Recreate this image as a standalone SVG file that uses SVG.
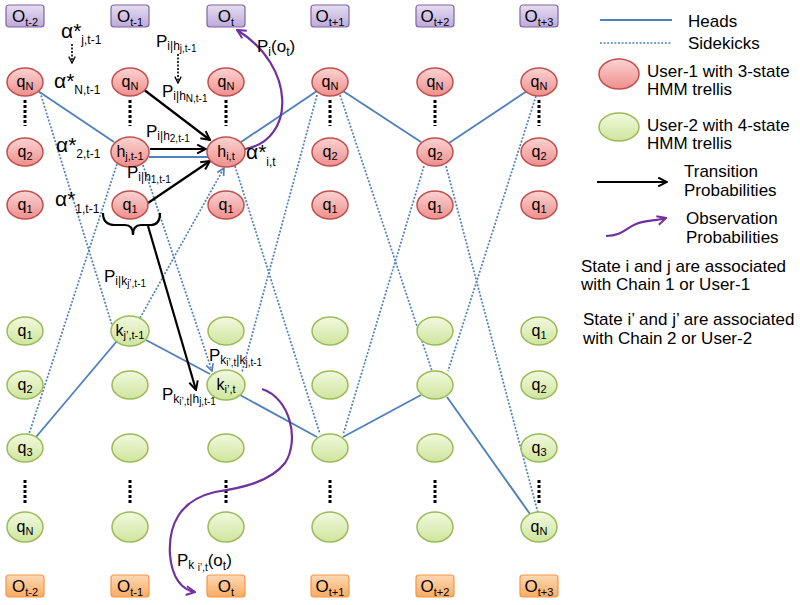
<svg xmlns="http://www.w3.org/2000/svg" width="800" height="605" viewBox="0 0 800 605">
<defs>
<linearGradient id="gr" x1="0" y1="0" x2="0" y2="1"><stop offset="0" stop-color="#fbd3d2"/><stop offset="1" stop-color="#ee8f8d"/></linearGradient>
<linearGradient id="gg" x1="0" y1="0" x2="0" y2="1"><stop offset="0" stop-color="#f2f9df"/><stop offset="1" stop-color="#cfe59d"/></linearGradient>
<linearGradient id="gp" x1="0" y1="0" x2="0" y2="1"><stop offset="0" stop-color="#e6ddf2"/><stop offset="1" stop-color="#bca9da"/></linearGradient>
<linearGradient id="go" x1="0" y1="0" x2="0" y2="1"><stop offset="0" stop-color="#fdd9b4"/><stop offset="1" stop-color="#f9ab62"/></linearGradient>
<marker id="mb" viewBox="0 0 10 10" refX="9" refY="5" markerWidth="11" markerHeight="11" markerUnits="userSpaceOnUse" orient="auto"><path d="M1,1 L9,5 L1,9" fill="none" stroke="#000" stroke-width="1.8"/></marker>
<marker id="ms" viewBox="0 0 10 10" refX="9" refY="5" markerWidth="8" markerHeight="8" markerUnits="userSpaceOnUse" orient="auto"><path d="M1,1 L9,5 L1,9" fill="none" stroke="#000" stroke-width="1.6"/></marker>
<marker id="mu" viewBox="0 0 10 10" refX="9" refY="5" markerWidth="9" markerHeight="9" markerUnits="userSpaceOnUse" orient="auto"><path d="M1,1 L9,5 L1,9" fill="none" stroke="#4f81bd" stroke-width="1.8"/></marker>
<marker id="mp" viewBox="0 0 10 10" refX="9" refY="5" markerWidth="11" markerHeight="11" markerUnits="userSpaceOnUse" orient="auto"><path d="M1,1 L9,5 L1,9" fill="none" stroke="#7030a0" stroke-width="1.8"/></marker>
<style>
.t{font-family:"Liberation Sans",Arial,sans-serif;fill:#000}
.rn ellipse{fill:url(#gr);stroke:#c0504d;stroke-width:1.5}
.gn ellipse{fill:url(#gg);stroke:#9bbb59;stroke-width:1.5}
.ob rect{fill:url(#gp);stroke:#8064a2;stroke-width:1.2}
.ow rect{fill:url(#go);stroke:#f79646;stroke-width:1.2}
.nl{font-family:"Liberation Sans",Arial,sans-serif;font-size:16px;text-anchor:middle;fill:#000}
.bl{font-family:"Liberation Sans",Arial,sans-serif;font-size:17px;text-anchor:middle;fill:#000}
.hd{stroke:#4f81bd;stroke-width:1.9;fill:none}
.sk{stroke:#4f81bd;stroke-width:1.7;stroke-dasharray:2 1.6;fill:none}
.ba{stroke:#000;stroke-width:2.2;fill:none}
.da{stroke:#000;stroke-width:1.6;stroke-dasharray:2 1.5;fill:none}
.pa{stroke:#7030a0;stroke-width:2.2;fill:none}
.dt{stroke:#000;stroke-width:3;stroke-dasharray:3 2;fill:none}
.lg{font-size:17px}
</style>
</defs>
<rect width="800" height="605" fill="#fff"/>

<g id="obs-top">
<g id="ot-2" class="ob"><rect x="6" y="5" width="38" height="22" rx="3"/><text class="bl" x="25" y="22">O<tspan font-size="11" dy="4">t-2</tspan></text></g>
<g id="ot-1" class="ob"><rect x="111" y="5" width="38" height="22" rx="3"/><text class="bl" x="130" y="22">O<tspan font-size="11" dy="4">t-1</tspan></text></g>
<g id="ot" class="ob"><rect x="207" y="5" width="38" height="22" rx="3"/><text class="bl" x="226" y="22">O<tspan font-size="11" dy="4">t</tspan></text></g>
<g id="ot+1" class="ob"><rect x="311" y="5" width="38" height="22" rx="3"/><text class="bl" x="330" y="22">O<tspan font-size="11" dy="4">t+1</tspan></text></g>
<g id="ot+2" class="ob"><rect x="416" y="5" width="38" height="22" rx="3"/><text class="bl" x="435" y="22">O<tspan font-size="11" dy="4">t+2</tspan></text></g>
<g id="ot+3" class="ob"><rect x="520" y="5" width="38" height="22" rx="3"/><text class="bl" x="539" y="22">O<tspan font-size="11" dy="4">t+3</tspan></text></g>
</g>
<g id="obs-bottom">
<g id="ob-2" class="ow"><rect x="6" y="575" width="38" height="22" rx="3"/><text class="bl" x="25" y="592">O<tspan font-size="11" dy="4">t-2</tspan></text></g>
<g id="ob-1" class="ow"><rect x="111" y="575" width="38" height="22" rx="3"/><text class="bl" x="130" y="592">O<tspan font-size="11" dy="4">t-1</tspan></text></g>
<g id="ob" class="ow"><rect x="207" y="575" width="38" height="22" rx="3"/><text class="bl" x="226" y="592">O<tspan font-size="11" dy="4">t</tspan></text></g>
<g id="ob+1" class="ow"><rect x="311" y="575" width="38" height="22" rx="3"/><text class="bl" x="330" y="592">O<tspan font-size="11" dy="4">t+1</tspan></text></g>
<g id="ob+2" class="ow"><rect x="416" y="575" width="38" height="22" rx="3"/><text class="bl" x="435" y="592">O<tspan font-size="11" dy="4">t+2</tspan></text></g>
<g id="ob+3" class="ow"><rect x="520" y="575" width="38" height="22" rx="3"/><text class="bl" x="539" y="592">O<tspan font-size="11" dy="4">t+3</tspan></text></g>
</g>

<g id="dots">
<line class="dt" x1="25" y1="100" x2="25" y2="126"/>
<line class="dt" x1="130" y1="100" x2="130" y2="126"/>
<line class="dt" x1="226" y1="100" x2="226" y2="126"/>
<line class="dt" x1="330" y1="100" x2="330" y2="126"/>
<line class="dt" x1="435" y1="100" x2="435" y2="126"/>
<line class="dt" x1="539" y1="100" x2="539" y2="126"/>
<line class="dt" x1="25" y1="480" x2="25" y2="504"/>
<line class="dt" x1="130" y1="480" x2="130" y2="504"/>
<line class="dt" x1="226" y1="480" x2="226" y2="504"/>
<line class="dt" x1="330" y1="480" x2="330" y2="504"/>
<line class="dt" x1="435" y1="480" x2="435" y2="504"/>
<line class="dt" x1="539" y1="480" x2="539" y2="504"/>
</g>

<g id="connectors">
<line class="hd" x1="38" y1="91" x2="114" y2="142"/>
<line class="hd" x1="149" y1="157" x2="209" y2="157"/>
<line class="hd" x1="241" y1="142" x2="317" y2="91"/>
<line class="hd" x1="343" y1="91" x2="421" y2="142"/>
<line class="hd" x1="449" y1="143" x2="527" y2="91"/>
<line class="hd" x1="36" y1="437" x2="117" y2="341"/>
<line class="hd" x1="146" y1="340" x2="210" y2="374"/>
<line class="hd" x1="240" y1="395" x2="317" y2="437"/>
<line class="hd" x1="343" y1="437" x2="421" y2="395"/>
<line class="hd" x1="447" y1="397" x2="530" y2="514"/>
<line class="sk" x1="40" y1="92" x2="112" y2="325"/>
<line class="sk" x1="117" y1="164" x2="29" y2="434"/>
<line class="sk" x1="143" y1="165" x2="212" y2="371" marker-end="url(#mu)"/>
<line class="sk" x1="140" y1="318" x2="224" y2="168" marker-end="url(#mu)"/>
<line class="sk" x1="235" y1="166" x2="320" y2="434"/>
<line class="sk" x1="317" y1="95" x2="242" y2="372"/>
<line class="sk" x1="340" y1="95" x2="432" y2="371"/>
<line class="sk" x1="424" y1="166" x2="343" y2="435"/>
<line class="sk" x1="446" y1="166" x2="538" y2="513"/>
<line class="sk" x1="536" y1="96" x2="448" y2="371"/>
<line class="ba" x1="143" y1="89" x2="210" y2="140" marker-end="url(#mb)"/>
<line class="ba" x1="150" y1="149" x2="206" y2="149" marker-end="url(#mb)"/>
<line class="ba" x1="148" y1="203" x2="210" y2="161" marker-end="url(#mb)"/>
<path class="ba" d="M103,213 C103,221 107,225 115,225 L125,225 C131,225 133,229 133,235 C133,229 135,225 141,225 L151,225 C157,225 160,221 160,213"/>
<line class="ba" x1="148" y1="226" x2="196" y2="390" marker-end="url(#mb)"/>
<line class="da" x1="72" y1="44" x2="72" y2="63" marker-end="url(#ms)"/>
<line class="da" x1="178" y1="54" x2="178" y2="83" marker-end="url(#ms)"/>
<path class="pa" d="M245,149 C296,140 296,66 237,30" marker-end="url(#mp)"/>
<path class="pa" d="M262,389 C290,398 300,440 285,463 C270,482 242,488 215,492 C180,500 168,525 170,555 C172,578 182,590 195,592" marker-end="url(#mp)"/>
</g>

<g id="red-nodes">
<g id="r1N" class="rn"><ellipse cx="25" cy="82" rx="18" ry="14"/><text class="nl" x="25" y="87">q<tspan font-size="11" dy="3">N</tspan></text></g>
<g id="r12" class="rn"><ellipse cx="25" cy="152" rx="18" ry="14"/><text class="nl" x="25" y="157">q<tspan font-size="11" dy="3">2</tspan></text></g>
<g id="r11" class="rn"><ellipse cx="25" cy="205" rx="18" ry="14"/><text class="nl" x="25" y="210">q<tspan font-size="11" dy="3">1</tspan></text></g>
<g id="r2N" class="rn"><ellipse cx="130" cy="82" rx="18" ry="14"/><text class="nl" x="130" y="87">q<tspan font-size="11" dy="3">N</tspan></text></g>
<g id="hj" class="rn"><ellipse cx="130" cy="152" rx="19" ry="15"/><text class="nl" x="130" y="157">h<tspan font-size="11" dy="3">j,t-1</tspan></text></g>
<g id="r21" class="rn"><ellipse cx="130" cy="205" rx="18" ry="14"/><text class="nl" x="130" y="210">q<tspan font-size="11" dy="3">1</tspan></text></g>
<g id="r3N" class="rn"><ellipse cx="226" cy="82" rx="18" ry="14"/><text class="nl" x="226" y="87">q<tspan font-size="11" dy="3">N</tspan></text></g>
<g id="hi" class="rn"><ellipse cx="226" cy="152" rx="19" ry="15"/><text class="nl" x="226" y="157">h<tspan font-size="11" dy="3">i,t</tspan></text></g>
<g id="r31" class="rn"><ellipse cx="226" cy="205" rx="18" ry="14"/><text class="nl" x="226" y="210">q<tspan font-size="11" dy="3">1</tspan></text></g>
<g id="r4N" class="rn"><ellipse cx="330" cy="82" rx="18" ry="14"/><text class="nl" x="330" y="87">q<tspan font-size="11" dy="3">N</tspan></text></g>
<g id="r42" class="rn"><ellipse cx="330" cy="152" rx="18" ry="14"/><text class="nl" x="330" y="157">q<tspan font-size="11" dy="3">2</tspan></text></g>
<g id="r41" class="rn"><ellipse cx="330" cy="205" rx="18" ry="14"/><text class="nl" x="330" y="210">q<tspan font-size="11" dy="3">1</tspan></text></g>
<g id="r5N" class="rn"><ellipse cx="435" cy="82" rx="18" ry="14"/><text class="nl" x="435" y="87">q<tspan font-size="11" dy="3">N</tspan></text></g>
<g id="r52" class="rn"><ellipse cx="435" cy="152" rx="18" ry="14"/><text class="nl" x="435" y="157">q<tspan font-size="11" dy="3">2</tspan></text></g>
<g id="r51" class="rn"><ellipse cx="435" cy="205" rx="18" ry="14"/><text class="nl" x="435" y="210">q<tspan font-size="11" dy="3">1</tspan></text></g>
<g id="r6N" class="rn"><ellipse cx="539" cy="82" rx="18" ry="14"/><text class="nl" x="539" y="87">q<tspan font-size="11" dy="3">N</tspan></text></g>
<g id="r62" class="rn"><ellipse cx="539" cy="152" rx="18" ry="14"/><text class="nl" x="539" y="157">q<tspan font-size="11" dy="3">2</tspan></text></g>
<g id="r61" class="rn"><ellipse cx="539" cy="205" rx="18" ry="14"/><text class="nl" x="539" y="210">q<tspan font-size="11" dy="3">1</tspan></text></g>
</g>

<g id="green-nodes">
<g id="g11" class="gn"><ellipse cx="25" cy="331" rx="18" ry="14"/><text class="nl" x="25" y="336">q<tspan font-size="11" dy="3">1</tspan></text></g>
<g id="g12" class="gn"><ellipse cx="25" cy="385" rx="18" ry="14"/><text class="nl" x="25" y="390">q<tspan font-size="11" dy="3">2</tspan></text></g>
<g id="g13" class="gn"><ellipse cx="25" cy="448" rx="18" ry="14"/><text class="nl" x="25" y="453">q<tspan font-size="11" dy="3">3</tspan></text></g>
<g id="g1N" class="gn"><ellipse cx="25" cy="527" rx="18" ry="15"/><text class="nl" x="25" y="532">q<tspan font-size="11" dy="3">N</tspan></text></g>
<g id="kj" class="gn"><ellipse cx="130" cy="331" rx="19" ry="15"/><text class="nl" x="130" y="336">k<tspan font-size="11" dy="3">j’,t-1</tspan></text></g>
<g id="g22" class="gn"><ellipse cx="130" cy="385" rx="18" ry="14"/></g>
<g id="g23" class="gn"><ellipse cx="130" cy="448" rx="18" ry="14"/></g>
<g id="g2N" class="gn"><ellipse cx="130" cy="527" rx="18" ry="15"/></g>
<g id="g31" class="gn"><ellipse cx="226" cy="331" rx="18" ry="14"/></g>
<g id="ki" class="gn"><ellipse cx="226" cy="385" rx="19" ry="15"/><text class="nl" x="226" y="390">k<tspan font-size="11" dy="3">i’,t</tspan></text></g>
<g id="g33" class="gn"><ellipse cx="226" cy="448" rx="18" ry="14"/></g>
<g id="g3N" class="gn"><ellipse cx="226" cy="527" rx="18" ry="15"/></g>
<g id="g41" class="gn"><ellipse cx="330" cy="331" rx="18" ry="14"/></g>
<g id="g42" class="gn"><ellipse cx="330" cy="385" rx="18" ry="14"/></g>
<g id="g43" class="gn"><ellipse cx="330" cy="448" rx="18" ry="14"/></g>
<g id="g4N" class="gn"><ellipse cx="330" cy="527" rx="18" ry="15"/></g>
<g id="g51" class="gn"><ellipse cx="435" cy="331" rx="18" ry="14"/></g>
<g id="g52" class="gn"><ellipse cx="435" cy="385" rx="18" ry="14"/></g>
<g id="g53" class="gn"><ellipse cx="435" cy="448" rx="18" ry="14"/></g>
<g id="g5N" class="gn"><ellipse cx="435" cy="527" rx="18" ry="15"/></g>
<g id="g61" class="gn"><ellipse cx="539" cy="331" rx="18" ry="14"/><text class="nl" x="539" y="336">q<tspan font-size="11" dy="3">1</tspan></text></g>
<g id="g62" class="gn"><ellipse cx="539" cy="385" rx="18" ry="14"/><text class="nl" x="539" y="390">q<tspan font-size="11" dy="3">2</tspan></text></g>
<g id="g63" class="gn"><ellipse cx="539" cy="448" rx="18" ry="14"/><text class="nl" x="539" y="453">q<tspan font-size="11" dy="3">3</tspan></text></g>
<g id="g6N" class="gn"><ellipse cx="539" cy="527" rx="18" ry="15"/><text class="nl" x="539" y="532">q<tspan font-size="11" dy="3">N</tspan></text></g>
</g>

<g id="labels" class="t">
<text class="t" x="61" y="38" font-size="21">α*<tspan font-size="12" dy="6">j,t-1</tspan></text>
<text class="t" x="54" y="88" font-size="21">α*<tspan font-size="12" dy="6">N,t-1</tspan></text>
<text class="t" x="56" y="152" font-size="21">α*<tspan font-size="12" dy="6">2,t-1</tspan></text>
<text class="t" x="55" y="206" font-size="21">α*<tspan font-size="12" dy="7">1,t-1</tspan></text>
<text class="t" x="246" y="159" font-size="21">α*<tspan font-size="12" dy="7">i,t</tspan></text>
<text class="t" x="156" y="47" font-size="17">P<tspan font-size="12" dy="3">i|h</tspan><tspan font-size="10" dy="2">j,t-1</tspan></text>
<text class="t" x="162" y="97" font-size="17">P<tspan font-size="12" dy="3">i|h</tspan><tspan font-size="10" dy="2">N,t-1</tspan></text>
<text class="t" x="146" y="137" font-size="17">P<tspan font-size="12" dy="3">i|h</tspan><tspan font-size="10" dy="2">2,t-1</tspan></text>
<text class="t" x="127" y="178" font-size="17">P<tspan font-size="12" dy="3">i|h</tspan><tspan font-size="10" dy="2">1,t-1</tspan></text>
<text class="t" x="257" y="52" font-size="17">P<tspan font-size="12" dy="4">i</tspan><tspan dy="-4">(o</tspan><tspan font-size="12" dy="4">t</tspan><tspan dy="-4">)</tspan></text>
<text class="t" x="104" y="282" font-size="17">P<tspan font-size="12" dy="3">i|k</tspan><tspan font-size="10" dy="2">j’,t-1</tspan></text>
<text class="t" x="209" y="361" font-size="17">P<tspan font-size="12" dy="3">k</tspan><tspan font-size="10" dy="2">i’,t</tspan><tspan font-size="12" dy="-2">|k</tspan><tspan font-size="10" dy="2">j,t-1</tspan></text>
<text class="t" x="162" y="400" font-size="17">P<tspan font-size="12" dy="3">k</tspan><tspan font-size="10" dy="2">i’,t</tspan><tspan font-size="12" dy="-2">|h</tspan><tspan font-size="10" dy="2">j,t-1</tspan></text>
<text class="t" x="177" y="566" font-size="17">P<tspan font-size="12" dy="3">k </tspan><tspan font-size="10" dy="2">i’,t</tspan><tspan dy="-5">(o</tspan><tspan font-size="12" dy="4">t</tspan><tspan dy="-4">)</tspan></text>
</g>

<g id="legend" class="t">
<line class="hd" x1="600" y1="20" x2="672" y2="20"/>
<text class="t lg" x="688" y="27">Heads</text>
<line class="sk" x1="600" y1="43" x2="672" y2="43"/>
<text class="t lg" x="688" y="49">Sidekicks</text>
<g class="rn"><ellipse cx="619" cy="74" rx="20" ry="15"/></g>
<text class="t lg" x="647" y="77">User-1 with 3-state</text>
<text class="t lg" x="647" y="95">HMM trellis</text>
<g class="gn"><ellipse cx="619" cy="127" rx="20" ry="14"/></g>
<text class="t lg" x="647" y="131">User-2 with 4-state</text>
<text class="t lg" x="647" y="149">HMM trellis</text>
<line class="ba" x1="597" y1="182" x2="667" y2="182" marker-end="url(#mb)"/>
<text class="t lg" x="684" y="177">Transition</text>
<text class="t lg" x="684" y="196">Probabilities</text>
<path class="pa" d="M606,236 C622,236 626,228 636,224 C646,220 656,221 666,218" marker-end="url(#mp)"/>
<text class="t lg" x="686" y="224">Observation</text>
<text class="t lg" x="686" y="243">Probabilities</text>
<text class="t lg" x="581" y="272">State i and j are associated</text>
<text class="t lg" x="581" y="290">with Chain 1 or User-1</text>
<text class="t lg" x="583" y="325">State i’ and j’ are associated</text>
<text class="t lg" x="583" y="344">with Chain 2 or User-2</text>
</g>
</svg>
